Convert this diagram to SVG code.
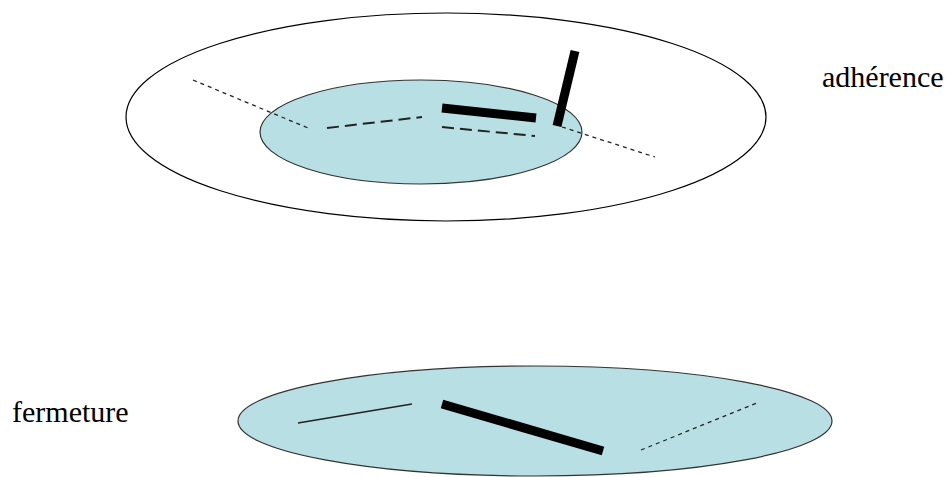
<svg xmlns="http://www.w3.org/2000/svg" width="948" height="477" viewBox="0 0 948 477">
<style>
.ring{fill:none;stroke:#000;stroke-width:1.2}
.disc{fill:#b8dfe3;stroke:#333;stroke-width:1.2}
.bar{stroke:#000;stroke-width:9;stroke-linecap:butt}
.dot{stroke:#222;stroke-width:1.3;stroke-dasharray:4 4;fill:none}
.dash{stroke:#222;stroke-width:2;stroke-dasharray:12 6;fill:none}
.thin{stroke:#222;stroke-width:1.3;fill:none}
.lbl{font-family:"Liberation Serif",serif;font-size:30px;fill:#000}
</style>
<rect width="948" height="477" fill="#fff"/>
<g id="adherence">
<ellipse class="ring" cx="446" cy="117" rx="320" ry="104"/>
<ellipse class="disc" cx="421" cy="132" rx="161" ry="52"/>
</g>
<g id="fermeture">
<ellipse class="disc" cx="535" cy="421" rx="297" ry="55"/>
</g>
<g id="connectors">
<line class="dot" x1="193" y1="80" x2="308" y2="128"/>
<line class="dash" x1="327" y1="128" x2="422" y2="117"/>
<line class="bar" x1="442" y1="108" x2="536" y2="118"/>
<line class="dash" x1="442" y1="127" x2="535" y2="136"/>
<line class="bar" x1="575" y1="51" x2="557" y2="126"/>
<line class="dot" x1="562" y1="127" x2="655" y2="157"/>
<line class="thin" x1="298" y1="423" x2="412" y2="404"/>
<line class="bar" x1="442" y1="404" x2="603" y2="451"/>
<line class="dot" x1="641" y1="450" x2="757" y2="403"/>
</g>
<text class="lbl" x="822" y="87">adhérence</text>
<text class="lbl" x="12" y="422">fermeture</text>
</svg>
